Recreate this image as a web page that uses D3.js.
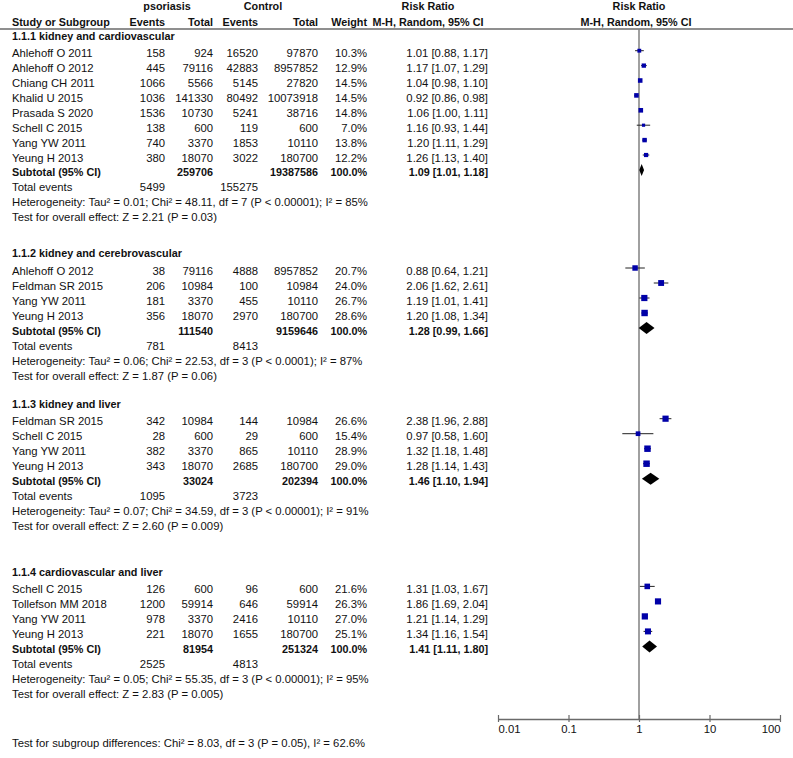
<!DOCTYPE html>
<html><head><meta charset="utf-8">
<script src="https://cdn.jsdelivr.net/npm/d3@7"></script>
<style>
body{margin:0;background:#fff;}
svg{display:block;font-family:"Liberation Sans",Arial,sans-serif;font-size:11.3px;}
</style></head>
<body><svg id="c" width="793" height="758"></svg>
<script>
// ---------- data ----------
const groupTitles = ["1.1.1 kidney and cardiovascular","1.1.2 kidney and cerebrovascular","1.1.3 kidney and liver","1.1.4 cardiovascular and liver"];
const studies = [
  ["Ahlehoff O 2011","Ahlehoff O 2012","Chiang CH 2011","Khalid U 2015","Prasada S 2020","Schell C 2015","Yang YW 2011","Yeung H 2013"],
  ["Ahlehoff O 2012","Feldman SR 2015","Yang YW 2011","Yeung H 2013"],
  ["Feldman SR 2015","Schell C 2015","Yang YW 2011","Yeung H 2013"],
  ["Schell C 2015","Tollefson MM 2018","Yang YW 2011","Yeung H 2013"]
];
const psoEvents = [[158,445,1066,1036,1536,138,740,380],[38,206,181,356],[342,28,382,343],[126,1200,978,221]];
const psoTotal  = [[924,79116,5566,141330,10730,600,3370,18070],[79116,10984,3370,18070],[10984,600,3370,18070],[600,59914,3370,18070]];
const ctlEvents = [[16520,42883,5145,80492,5241,119,1853,3022],[4888,100,455,2970],[144,29,865,2685],[96,646,2416,1655]];
const ctlTotal  = [[97870,8957852,27820,10073918,38716,600,10110,180700],[8957852,10984,10110,180700],[10984,600,10110,180700],[600,59914,10110,180700]];
const weights   = [[10.3,12.9,14.5,14.5,14.8,7.0,13.8,12.2],[20.7,24.0,26.7,28.6],[26.6,15.4,28.9,29.0],[21.6,26.3,27.0,25.1]];
const rr        = [[1.01,1.17,1.04,0.92,1.06,1.16,1.20,1.26],[0.88,2.06,1.19,1.20],[2.38,0.97,1.32,1.28],[1.31,1.86,1.21,1.34]];
const rrLow     = [[0.88,1.07,0.98,0.86,1.00,0.93,1.11,1.13],[0.64,1.62,1.01,1.08],[1.96,0.58,1.18,1.14],[1.03,1.69,1.14,1.16]];
const rrHigh    = [[1.17,1.29,1.10,0.98,1.11,1.44,1.29,1.40],[1.21,2.61,1.41,1.34],[2.88,1.60,1.48,1.43],[1.67,2.04,1.29,1.54]];
const subPsoTotal = [259706,111540,33024,81954];
const subCtlTotal = [19387586,9159646,202394,251324];
const subRR   = [1.09,1.28,1.46,1.41];
const subLow  = [1.01,0.99,1.10,1.11];
const subHigh = [1.18,1.66,1.94,1.80];
const totPsoEvents = [5499,781,1095,2525];
const totCtlEvents = [155275,8413,3723,4813];
const heterogeneity = [
  "Heterogeneity: Tau\u00b2 = 0.01; Chi\u00b2 = 48.11, df = 7 (P < 0.00001); I\u00b2 = 85%",
  "Heterogeneity: Tau\u00b2 = 0.06; Chi\u00b2 = 22.53, df = 3 (P < 0.0001); I\u00b2 = 87%",
  "Heterogeneity: Tau\u00b2 = 0.07; Chi\u00b2 = 34.59, df = 3 (P < 0.00001); I\u00b2 = 91%",
  "Heterogeneity: Tau\u00b2 = 0.05; Chi\u00b2 = 55.35, df = 3 (P < 0.00001); I\u00b2 = 95%"
];
const overallTests = [
  "Test for overall effect: Z = 2.21 (P = 0.03)",
  "Test for overall effect: Z = 1.87 (P = 0.06)",
  "Test for overall effect: Z = 2.60 (P = 0.009)",
  "Test for overall effect: Z = 2.83 (P = 0.005)"
];
const subgroupTest = "Test for subgroup differences: Chi\u00b2 = 8.03, df = 3 (P = 0.05), I\u00b2 = 62.6%";
const axisTicks = [0.01,0.1,1,10,100];
const axisTickLabels = ["0.01","0.1","1","10","100"];

// ---------- layout ----------
const svg = d3.select("#c");
const groupHeaderY = [36, 253.3, 404, 571.7];
const groupPitch = [14.9, 15, 15, 15];
const firstRowGap = 17.2;
const headerLineY = 29, axisY = 719;
const col = {name:12, pe:165, pt:213, ce:258, ct:318, w:367, ci:488};
const x = d3.scaleLog().domain([0.01,100]).range([498,780]);
const fmt2 = d3.format(".2f");
const textColor = "#111";
const boldSize = 10.8;

function txt(xp, yc, s, anchor, bold){
  const t = svg.append("text").attr("x",xp).attr("y",yc+4).attr("text-anchor",anchor||"start")
    .attr("fill",textColor).text(s);
  if (bold) t.attr("font-weight","bold").attr("font-size",boldSize);
}

// header
txt(167,6,"psoriasis","middle",true);
txt(263,6,"Control","middle",true);
txt(428,6,"Risk Ratio","middle",true);
txt(639,6,"Risk Ratio","middle",true);
txt(col.name,22,"Study or Subgroup","start",true);
txt(col.pe,22,"Events","end",true);
txt(col.pt,22,"Total","end",true);
txt(col.ce,22,"Events","end",true);
txt(col.ct,22,"Total","end",true);
txt(col.w,22,"Weight","end",true);
txt(428,22,"M-H, Random, 95% CI","middle",true);
txt(636,22,"M-H, Random, 95% CI","middle",true);

svg.append("line").attr("x1",0).attr("x2",793).attr("y1",headerLineY).attr("y2",headerLineY)
  .attr("stroke","#6a6a6a").attr("stroke-width",1.5);

// vertical line at RR = 1
svg.append("line").attr("x1",x(1)).attr("x2",x(1)).attr("y1",headerLineY).attr("y2",axisY)
  .attr("stroke","#808080").attr("stroke-width",1.5);

const ciStr = (m,l,h)=> fmt2(m)+" ["+fmt2(l)+", "+fmt2(h)+"]";

groupTitles.forEach((title,g)=>{
  const hy = groupHeaderY[g], p = groupPitch[g];
  const rowY = i => hy + firstRowGap + i*p;
  txt(col.name,hy,title,"start",true);
  const n = studies[g].length;
  studies[g].forEach((s,i)=>{
    const y = rowY(i);
    txt(col.name,y,s);
    txt(col.pe,y,psoEvents[g][i],"end");
    txt(col.pt,y,psoTotal[g][i],"end");
    txt(col.ce,y,ctlEvents[g][i],"end");
    txt(col.ct,y,ctlTotal[g][i],"end");
    txt(col.w,y,weights[g][i].toFixed(1)+"%","end");
    txt(col.ci,y,ciStr(rr[g][i],rrLow[g][i],rrHigh[g][i]),"end");
    const my = y - 2.5;
    svg.append("line").attr("x1",x(rrLow[g][i])).attr("x2",x(rrHigh[g][i]))
      .attr("y1",my).attr("y2",my).attr("stroke","#222").attr("stroke-width",1);
    const sz = 1.2*Math.sqrt(weights[g][i]);
    svg.append("rect").attr("x",x(rr[g][i])-sz/2).attr("y",my-sz/2)
      .attr("width",sz).attr("height",sz).attr("fill","#0000a8");
  });
  const sy = rowY(n);
  txt(col.name,sy,"Subtotal (95% CI)","start",true);
  txt(col.pt,sy,subPsoTotal[g],"end",true);
  txt(col.ct,sy,subCtlTotal[g],"end",true);
  txt(col.w,sy,"100.0%","end",true);
  txt(col.ci,sy,ciStr(subRR[g],subLow[g],subHigh[g]),"end",true);
  const dy = sy - 2.5;
  svg.append("path").attr("d",
    `M${x(subLow[g])},${dy} L${x(subRR[g])},${dy-6} L${x(subHigh[g])},${dy} L${x(subRR[g])},${dy+6} Z`)
    .attr("fill","#000");
  const ty = rowY(n+1);
  txt(col.name,ty,"Total events");
  txt(col.pe,ty,totPsoEvents[g],"end");
  txt(col.ce,ty,totCtlEvents[g],"end");
  txt(col.name,rowY(n+2),heterogeneity[g]);
  txt(col.name,rowY(n+3),overallTests[g]);
});

// axis
const axis = d3.axisBottom(x).tickValues(axisTicks).tickFormat((d,i)=>axisTickLabels[i])
  .tickSizeInner(3).tickSizeOuter(0);
const ag = svg.append("g").attr("transform",`translate(0,${axisY})`).call(axis);
ag.select(".domain").attr("stroke","#6a6a6a").attr("stroke-width",1.5);
ag.selectAll(".tick line").attr("y1",-4).attr("y2",3).attr("stroke","#6a6a6a").attr("stroke-width",1.2);
ag.selectAll(".tick text").attr("y",6).attr("font-size",11.3).attr("font-family","Liberation Sans, Arial, sans-serif")
  .attr("fill",textColor)
  .attr("text-anchor",(d,i)=> i===0?"start":(i===axisTicks.length-1?"end":"middle"));

txt(col.name,742.5,subgroupTest);
</script></body></html>
